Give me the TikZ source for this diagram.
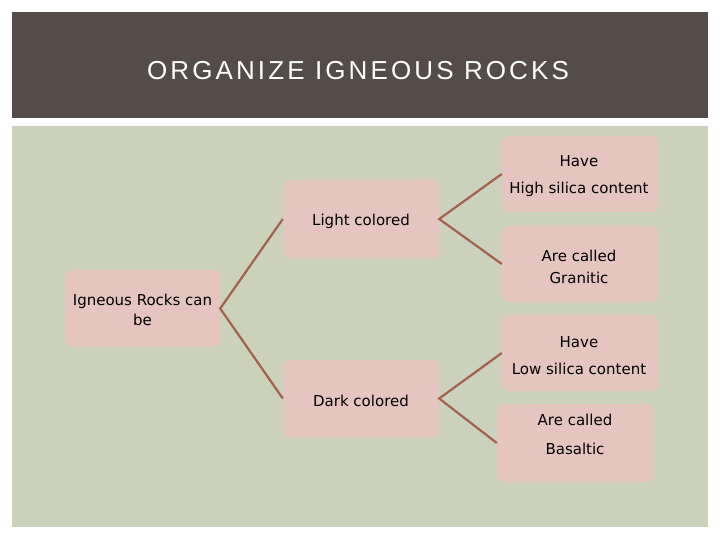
\documentclass[tikz,border=0pt]{standalone}
\usepackage{fontspec}
\setmainfont{DejaVu Sans}
\newfontfamily\titlefont[LetterSpace=12]{Liberation Sans}
\newfontfamily\nodefont{DejaVu Sans}
\definecolor{titlebg}{RGB}{85,75,72}
\definecolor{panelbg}{RGB}{204,209,188}
\definecolor{boxpink}{RGB}{228,197,191}
\definecolor{linkbrown}{RGB}{164,98,76}
\tikzset{
  box/.style={fill=boxpink, rounded corners=6pt, minimum width=156pt, minimum height=77pt, inner sep=0pt},
  txt/.style={align=center, inner sep=0pt, text=black},
  link/.style={draw=linkbrown, line width=2.2pt}
}
\begin{document}
\begin{tikzpicture}[x=1pt,y=-1pt]
\useasboundingbox (0,0) rectangle (720,540);
\fill[white] (0,0) rectangle (720,540);
\fill[titlebg] (12,12) rectangle (708,118);
\node[text=white, font=\titlefont\fontsize{26}{30}\selectfont, inner sep=0pt] (title) at (358,71) {ORGANIZE IGNEOUS ROCKS};
\fill[panelbg] (12,126) rectangle (708,527);

\node[box, minimum width=155pt] (ign) at (142.5,308.5) {};
\node[box, minimum height=78pt] (light) at (361,219) {};
\node[box] (dark) at (361,398.5) {};
\node[box, minimum height=76pt] (high) at (580,174) {};
\node[box, minimum height=76pt] (gran) at (580,264) {};
\node[box, minimum height=76pt] (low) at (580,353) {};
\node[box, minimum height=78pt] (bas) at (575,443) {};

\node[txt, font=\nodefont\fontsize{15}{20}\selectfont] (ignt) at (142.5,309.5) {Igneous Rocks can\\be};
\node[txt, font=\nodefont\fontsize{15}{18}\selectfont] (lightt) at (361,221) {Light colored};
\node[txt, font=\nodefont\fontsize{15}{18}\selectfont] (darkt) at (361,401) {Dark colored};
\node[txt, font=\nodefont\fontsize{15}{27}\selectfont] (hight) at (579,176.5) {Have\\High silica content};
\node[txt, font=\nodefont\fontsize{15}{22}\selectfont] (grant) at (579,266.5) {Are called\\Granitic};
\node[txt, font=\nodefont\fontsize{15}{27}\selectfont] (lowt) at (579,355.5) {Have\\Low silica content};
\node[txt, font=\nodefont\fontsize{15}{29}\selectfont] (bast) at (575,434) {Are called\\Basaltic};

\draw[link] (light.west) -- (ign.east) -- (dark.west);
\draw[link] (high.west) -- (light.east) -- (gran.west);
\draw[link] (low.west) -- (dark.east) -- (bas.west);
\end{tikzpicture}
\end{document}
